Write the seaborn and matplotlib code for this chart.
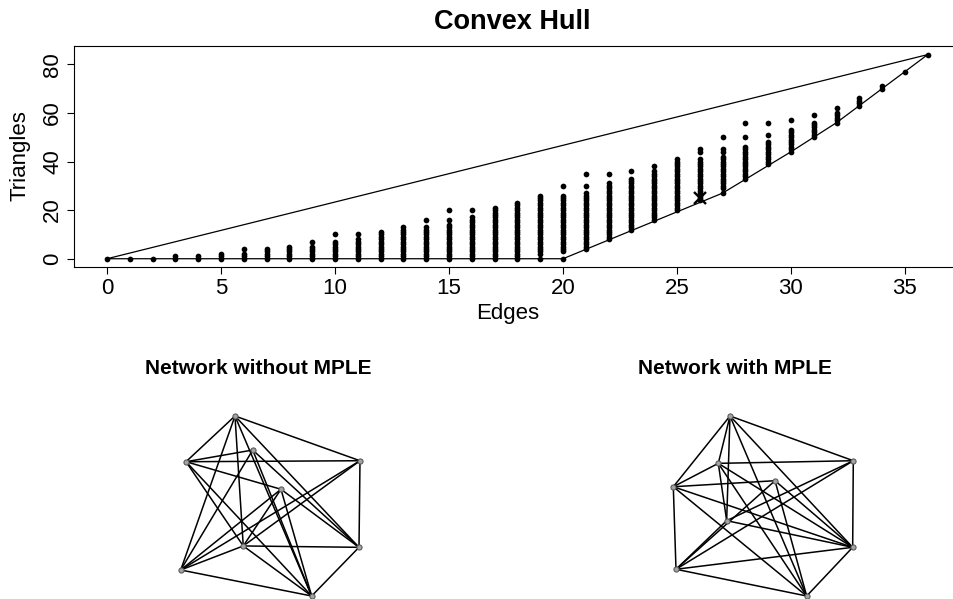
import numpy as np
import pandas as pd
import matplotlib
matplotlib.use("Agg")
import matplotlib.pyplot as plt
import seaborn as sns

# ---------------- data ----------------
edge_counts = list(range(37))
# continuous run of achievable triangle counts (low..high) per number of edges
run_lo = [0, 0, 0, 0, 0, 0, 0, 0, 0, 0, 0, 0, 0, 0, 0, 0, 0, 0, 0, 2, 3, 4, 8, 12, 16,
          20, 24, 29, 33, 39, 44, 50, 56, 63, 70, 77, 84]
run_hi = [0, 0, 0, 1, 1, 2, 2, 4, 5, 5, 7, 8, 11, 13, 13, 14, 17, 21, 23, 26, 26, 27, 31,
          33, 36, 41, 41, 42, 46, 48, 53, 56, 60, 66, 71, 77, 84]
# isolated achievable values outside the run
isolated = [[], [], [], [], [], [], [4], [], [], [7], [10], [10], [], [], [16], [16, 20],
            [20], [], [], [0], [0, 30], [30, 35], [35], [36], [38], [], [44, 45],
            [27, 44, 45, 50], [50, 56], [51, 56], [57], [59], [62], [], [], [], []]
observed_edges = [26]
observed_triangles = [25]

x_ticks = [0, 5, 10, 15, 20, 25, 30, 35]
y_ticks = [0, 20, 40, 60, 80]

# network layouts (scaled to [-1, 1]) and edge lists
left_x = [-0.393, -0.937, -0.196, 0.996, 0.118, -0.301, 0.985, -0.996, 0.459]
left_y = [1.000, 0.492, 0.622, 0.503, 0.186, -0.444, -0.459, -0.711, -1.000]
left_edges = [(0, 1), (0, 3), (0, 7), (0, 5), (0, 6), (0, 8), (1, 2), (1, 3), (1, 4),
              (1, 8), (1, 5), (2, 7), (2, 8), (2, 6), (3, 6), (3, 7), (3, 5), (4, 7),
              (4, 5), (4, 6), (4, 8), (5, 6), (5, 8), (7, 8), (6, 8), (7, 5)]

right_x = [-0.370, -0.500, 1.000, -1.000, 0.130, -0.407, 0.993, -0.970, 0.482]
right_y = [1.000, 0.474, 0.503, 0.214, 0.281, -0.163, -0.459, -0.703, -1.000]
right_edges = [(0, 1), (0, 2), (0, 3), (0, 5), (0, 6), (0, 8), (1, 2), (1, 3), (1, 5),
               (1, 6), (1, 8), (2, 5), (2, 6), (2, 7), (3, 4), (3, 6), (3, 7), (3, 8),
               (4, 7), (4, 8), (4, 6), (5, 6), (5, 7), (6, 7), (6, 8), (7, 8)]

titles = ["Convex Hull", "Network without MPLE", "Network with MPLE"]

# ---------------- figure ----------------
sns.set_theme(style="white")
plt.rcParams["font.family"] = ["Liberation Sans", "DejaVu Sans"]
plt.rcParams["text.color"] = "black"
plt.rcParams["axes.labelcolor"] = "black"
plt.rcParams["xtick.color"] = "black"
plt.rcParams["ytick.color"] = "black"

W, H = 954, 599
fig = plt.figure(figsize=(W / 100, H / 100), dpi=100)

ax = fig.add_axes([74.2 / W, 1 - 266.9 / H, (960.6 - 74.2) / W, (266.9 - 46.4) / H])

rows = []
for e, lo, hi, ex in zip(edge_counts, run_lo, run_hi, isolated):
    for t in list(range(lo, hi + 1)) + ex:
        rows.append((e, t))
df = pd.DataFrame(rows, columns=["Edges", "Triangles"]).drop_duplicates()

sns.scatterplot(data=df, x="Edges", y="Triangles", color="black", s=17,
                linewidth=0, ax=ax, zorder=3)


def convex_hull(points):
    pts = sorted(set(points))

    def cross(o, a, b):
        return (a[0] - o[0]) * (b[1] - o[1]) - (a[1] - o[1]) * (b[0] - o[0])

    lower, upper = [], []
    for p in pts:
        while len(lower) >= 2 and cross(lower[-2], lower[-1], p) <= 0:
            lower.pop()
        lower.append(p)
    for p in reversed(pts):
        while len(upper) >= 2 and cross(upper[-2], upper[-1], p) <= 0:
            upper.pop()
        upper.append(p)
    return lower[:-1] + upper[:-1]


hull = convex_hull(list(zip(df["Edges"], df["Triangles"])))
hull.append(hull[0])
ax.plot([p[0] for p in hull], [p[1] for p in hull], color="black", lw=0.9, zorder=2)

ax.plot(observed_edges, observed_triangles, linestyle="none", marker="x", ms=8.5,
        mew=1.7, color="black", zorder=4)

ax.set_xlim(-1.44, 37.44)
ax.set_ylim(-3.36, 87.36)
ax.set_xticks(x_ticks)
ax.set_xticklabels([str(v) for v in x_ticks], fontsize=16)
ax.set_yticks(y_ticks)
ax.set_yticklabels([str(v) for v in y_ticks], fontsize=16, rotation=90, va="center")
ax.tick_params(direction="out", length=5, width=0.8, color="black", pad=3,
               bottom=True, left=True, labelcolor="black")
for sp in ax.spines.values():
    sp.set_color("black")
    sp.set_linewidth(0.8)
ax.set_xlabel("")
ax.set_ylabel("")
ax.grid(False)

fig.text(512 / W, 1 - 22 / H, titles[0], ha="center", va="center", fontsize=19.5,
         fontweight="bold", color="black")
fig.text(508 / W, 1 - 313 / H, "Edges", ha="center", va="center", fontsize=16,
         color="black")
fig.text(20 / W, 1 - 156 / H, "Triangles", ha="center", va="center", fontsize=16,
         rotation=90, color="black")


def draw_network(cx, nx, ny, edges, title, tx):
    a = fig.add_axes([(cx - 90) / W, 1 - 596 / H, 180 / W, 180 / H])
    a.set_xlim(-1, 1)
    a.set_ylim(-1, 1)
    a.axis("off")
    for i, j in edges:
        a.plot([nx[i], nx[j]], [ny[i], ny[j]], color="black", lw=1.1, clip_on=False,
               zorder=1)
    sns.scatterplot(x=nx, y=ny, color="#a3a3a3", edgecolor="#505050", linewidth=0.7,
                    s=14, ax=a, zorder=3, clip_on=False, legend=False)
    fig.text(tx / W, 1 - 369 / H, title, ha="center", va="center", fontsize=15,
             fontweight="bold", color="black")


draw_network(270.35, left_x, left_y, left_edges, titles[1], 258)
draw_network(763.3, right_x, right_y, right_edges, titles[2], 735)

fig.savefig("out.png", dpi=100, facecolor="white")
